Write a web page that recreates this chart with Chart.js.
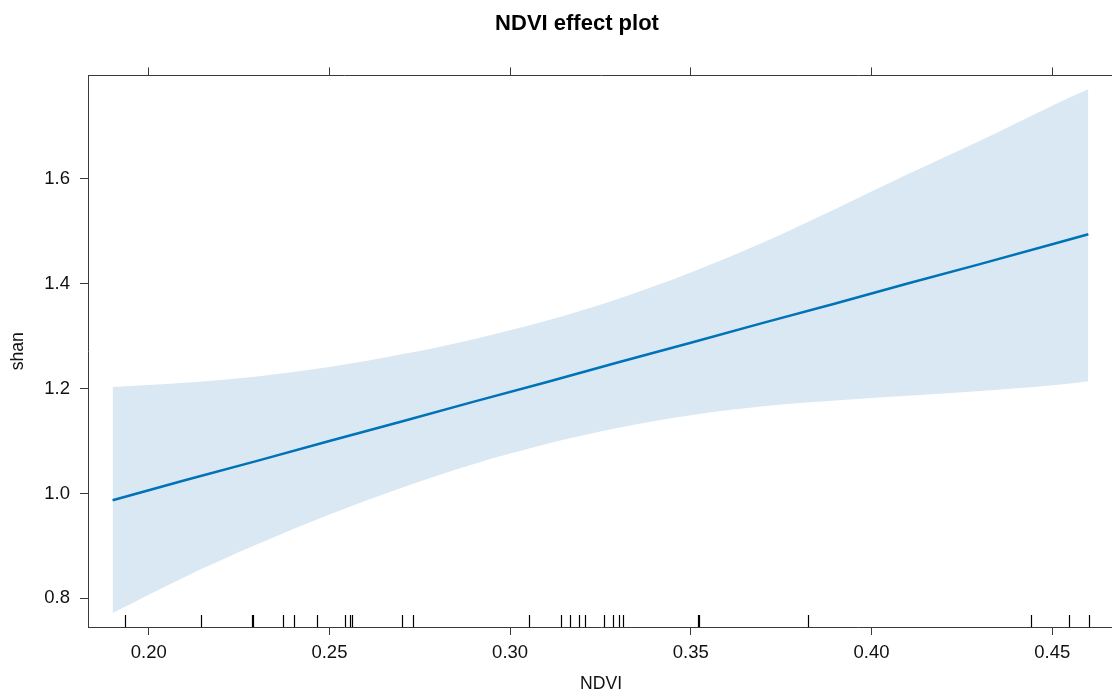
<!DOCTYPE html>
<html lang="en">
<head>
<meta charset="UTF-8">
<title>NDVI effect plot</title>
<script src="https://cdn.jsdelivr.net/npm/chart.js"></script>
<style>
    html, body { margin: 0; padding: 0; background: #fff; overflow: hidden; }
    #wrap { width: 1112px; height: 695px; overflow: hidden; }
</style>
</head>
<body>
<div id="wrap"><canvas id="effectPlot" width="1154" height="695"></canvas></div>
<script>
// NDVI values where the effect was evaluated
var ndvi  = [0.19, 0.21, 0.23, 0.25, 0.27, 0.29, 0.31, 0.33, 0.35, 0.37, 0.39, 0.41, 0.43, 0.45, 0.46];
// fitted shan and 95% band
var fit   = [0.987, 1.025, 1.062, 1.100, 1.137, 1.175, 1.212, 1.250, 1.287, 1.325, 1.362, 1.400, 1.437, 1.475, 1.494];
var lower = [0.772, 0.841, 0.903, 0.960, 1.011, 1.056, 1.094, 1.125, 1.149, 1.166, 1.177, 1.186, 1.195, 1.206, 1.214];
var upper = [1.203, 1.211, 1.223, 1.241, 1.265, 1.294, 1.329, 1.371, 1.421, 1.478, 1.542, 1.608, 1.672, 1.739, 1.770];
// observed NDVI (rug)
var rugNdvi = [0.1935, 0.2145, 0.2285, 0.2289, 0.2371, 0.2402, 0.2466, 0.2542, 0.2557, 0.2562,
               0.2702, 0.2730, 0.3053, 0.3140, 0.3166, 0.3191, 0.3207, 0.3260, 0.3285, 0.3300,
               0.3313, 0.3520, 0.3524, 0.3823, 0.4442, 0.4546, 0.4601];
var xTicks = [0.20, 0.25, 0.30, 0.35, 0.40, 0.45];
var yTicks = [0.8, 1.0, 1.2, 1.4, 1.6];

var xMin = 0.1832, xMax = 0.4671;
var yMin = 0.7455, yMax = 1.7966;

var lineColor = '#0072b8';
var bandColor = '#dae8f3';
var axisColor = '#3a3a3a';
var fontFamily = "'Liberation Sans', Arial, sans-serif";

function pts(ys) {
    return ndvi.map(function (x, i) { return { x: x, y: ys[i] }; });
}

function tickList(values) {
    return function (scale) {
        scale.ticks = values.map(function (v) { return { value: v }; });
    };
}

var gridOpts = { display: true, drawOnChartArea: false, drawTicks: true, tickLength: 8, color: axisColor, lineWidth: 1 };
var borderOpts = { display: true, color: axisColor, width: 1 };

// short marks along the bottom edge, one per observation
var rugPlugin = {
    id: 'rug',
    afterDatasetsDraw: function (chart) {
        var ctx = chart.ctx;
        var xs = chart.scales.x;
        var bottom = chart.chartArea.bottom;
        ctx.save();
        ctx.strokeStyle = '#000';
        ctx.lineWidth = 1.2;
        rugNdvi.forEach(function (v) {
            var px = Math.round(xs.getPixelForValue(v)) + 0.5;
            ctx.beginPath();
            ctx.moveTo(px, bottom);
            ctx.lineTo(px, bottom - 12);
            ctx.stroke();
        });
        ctx.restore();
    }
};

new Chart(document.getElementById('effectPlot').getContext('2d'), {
    type: 'line',
    data: {
        datasets: [
            // band drawn first, fitted line on top (lower order = on top)
            { label: 'lower', order: 2, data: pts(lower), borderWidth: 0, pointRadius: 0, fill: false, cubicInterpolationMode: 'monotone' },
            { label: 'upper', order: 1, data: pts(upper), borderWidth: 0, pointRadius: 0, fill: '-1', backgroundColor: bandColor, cubicInterpolationMode: 'monotone' },
            { label: 'fit', order: 0, data: pts(fit), borderColor: lineColor, borderWidth: 2.5, pointRadius: 0, fill: false, tension: 0 }
        ]
    },
    options: {
        responsive: false,
        animation: false,
        devicePixelRatio: 1,
        layout: { padding: 0 },
        plugins: {
            legend: { display: false },
            tooltip: { enabled: false },
            title: {
                display: true,
                text: 'NDVI effect plot',
                color: '#000',
                font: { family: fontFamily, size: 22, weight: 'bold' },
                padding: { top: 11, bottom: 30 }
            }
        },
        scales: {
            x: {
                type: 'linear', position: 'bottom', min: xMin, max: xMax,
                afterBuildTicks: tickList(xTicks),
                afterFit: function (s) { s.height = 68; },
                grid: gridOpts, border: borderOpts,
                ticks: {
                    color: '#111', padding: 7, maxRotation: 0,
                    font: { family: fontFamily, size: 18.5 },
                    callback: function (v) { return Number(v).toFixed(2); }
                },
                title: { display: true, text: 'NDVI', color: '#111', padding: { top: 0, bottom: 0 }, font: { family: fontFamily, size: 17.6 } }
            },
            xTop: {
                type: 'linear', position: 'top', min: xMin, max: xMax,
                afterBuildTicks: tickList(xTicks),
                afterFit: function (s) { s.height = 8; },
                grid: gridOpts, border: borderOpts,
                ticks: { display: false }
            },
            y: {
                type: 'linear', position: 'left', min: yMin, max: yMax,
                afterBuildTicks: tickList(yTicks),
                afterFit: function (s) { s.width = 88; },
                grid: gridOpts, border: borderOpts,
                ticks: {
                    color: '#111', padding: 10,
                    font: { family: fontFamily, size: 18.5 },
                    callback: function (v) { return Number(v).toFixed(1); }
                },
                title: { display: true, text: 'shan', color: '#111', padding: { top: 8, bottom: 0 }, font: { family: fontFamily, size: 17.6 } }
            },
            yRight: {
                type: 'linear', position: 'right', min: yMin, max: yMax,
                afterBuildTicks: tickList(yTicks),
                afterFit: function (s) { s.width = 40; },
                grid: gridOpts, border: borderOpts,
                ticks: { display: false }
            }
        }
    },
    plugins: [rugPlugin]
});
</script>
</body>
</html>
